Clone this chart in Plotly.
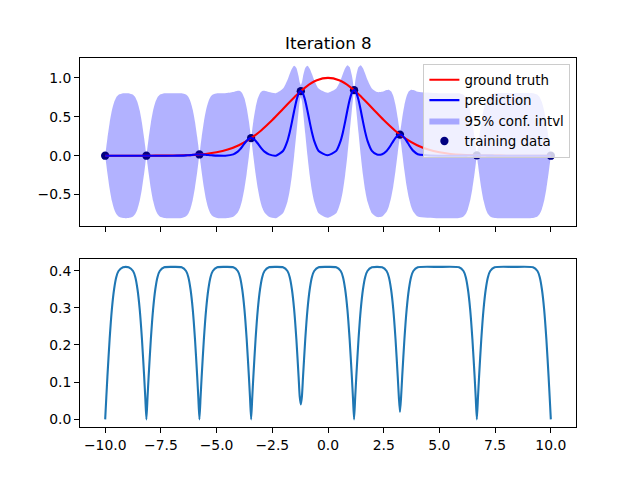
import plotly.graph_objects as go

# ---------------- data ----------------
train_x = [-10.0, -8.15, -5.77, -3.45, -1.22, 1.17, 3.23, 6.68, 10.0]
train_y = [0.0, 0.0, 0.016, 0.226, 0.830, 0.843, 0.271, 0.004, 0.0]

truth_x = [-10.0, -9.5, -9.0, -8.5, -8.0, -7.5, -7.0, -6.5, -6.0, -5.5, -5.0, -4.5, -4.0, -3.5,
           -3.0, -2.5, -2.0, -1.5, -1.0, -0.5, 0.0, 0.5, 1.0, 1.5, 2.0, 2.5, 3.0, 3.5, 4.0,
           4.5, 5.0, 5.5, 6.0, 6.5, 7.0, 7.5, 8.0, 8.5, 9.0, 9.5, 10.0]
truth_y = [0.0, 0.0, 0.0, 0.0001, 0.0003, 0.0009, 0.0022, 0.0051, 0.0111, 0.0228, 0.0439,
           0.0796, 0.1353, 0.2163, 0.3247, 0.4578, 0.6065, 0.7548, 0.8825, 0.9692, 1.0,
           0.9692, 0.8825, 0.7548, 0.6065, 0.4578, 0.3247, 0.2163, 0.1353, 0.0796, 0.0439,
           0.0228, 0.0111, 0.0051, 0.0022, 0.0009, 0.0003, 0.0001, 0.0, 0.0, 0.0]

grid_x = [
    -10.0, -9.95, -9.9, -9.8, -9.7, -9.6, -9.5, -9.4, -9.2,
    -9.075,
    -8.95, -8.75, -8.65, -8.55, -8.45, -8.35, -8.25, -8.2, -8.15, -8.1, -8.05, -7.95, -7.85, -7.75, -7.65, -7.55, -7.35,
    -6.96,
    -6.57, -6.37, -6.27, -6.17, -6.07, -5.97, -5.87, -5.82, -5.77, -5.72, -5.67, -5.57, -5.47, -5.37, -5.27, -5.17, -4.97,
    -4.61,
    -4.25, -4.05, -3.95, -3.85, -3.75, -3.65, -3.55, -3.5, -3.45, -3.4, -3.35, -3.25, -3.15, -3.05, -2.95, -2.85, -2.65,
    -2.335,
    -2.02, -1.82, -1.72, -1.62, -1.52, -1.42, -1.32, -1.27, -1.22, -1.17, -1.12, -1.02, -0.92, -0.82, -0.72, -0.62, -0.42,
    -0.025,
    0.37, 0.57, 0.67, 0.77, 0.87, 0.97, 1.07, 1.12, 1.17, 1.22, 1.27, 1.37, 1.47, 1.57, 1.67, 1.77, 1.97,
    2.2,
    2.43, 2.63, 2.73, 2.83, 2.93, 3.03, 3.13, 3.18, 3.23, 3.28, 3.33, 3.43, 3.53, 3.63, 3.73, 3.83, 4.03,
    4.955,
    5.88, 6.08, 6.18, 6.28, 6.38, 6.48, 6.58, 6.63, 6.68, 6.73, 6.78, 6.88, 6.98, 7.08, 7.18, 7.28, 7.48,
    8.34,
    9.2, 9.4, 9.5, 9.6, 9.7, 9.8, 9.9, 9.95, 10.0,
]

pred_mean = [
    0, 0, 0, 0, 0, 0, 0, 0, 0,
    0,
    0, 0, 0, 0, 0, 0, 0, 0, 0, 0, 0, 0, 0, 0, 0, 0, 0,
    0,
    0.001, 0.004, 0.006, 0.008, 0.011, 0.014, 0.015, 0.016, 0.016, 0.016, 0.015, 0.014, 0.011, 0.008, 0.006, 0.004, 0.001,
    0,
    0.017, 0.052, 0.081, 0.118, 0.157, 0.192, 0.217, 0.224, 0.226, 0.224, 0.217, 0.192, 0.157, 0.118, 0.081, 0.052, 0.017,
    0,
    0.061, 0.191, 0.299, 0.432, 0.575, 0.705, 0.797, 0.822, 0.830, 0.822, 0.797, 0.705, 0.575, 0.432, 0.299, 0.191, 0.061,
    0.005,
    0.062, 0.194, 0.303, 0.438, 0.584, 0.716, 0.809, 0.835, 0.843, 0.835, 0.809, 0.716, 0.584, 0.438, 0.303, 0.194, 0.062,
    0.015,
    0.020, 0.062, 0.098, 0.141, 0.188, 0.230, 0.260, 0.268, 0.271, 0.268, 0.260, 0.230, 0.188, 0.141, 0.098, 0.062, 0.020,
    0,
    0, 0.001, 0.001, 0.002, 0.003, 0.003, 0.004, 0.004, 0.004, 0.004, 0.004, 0.003, 0.003, 0.002, 0.001, 0.001, 0,
    0,
    0, 0, 0, 0, 0, 0, 0, 0, 0,
]

pred_std = [
    0.0, 0.058, 0.115, 0.216, 0.296, 0.350, 0.383, 0.399, 0.409,
    0.410,
    0.409, 0.399, 0.383, 0.350, 0.296, 0.216, 0.115, 0.058, 0.0, 0.058, 0.115, 0.216, 0.296, 0.350, 0.383, 0.399, 0.409,
    0.410,
    0.409, 0.399, 0.383, 0.350, 0.296, 0.216, 0.115, 0.058, 0.0, 0.058, 0.115, 0.216, 0.296, 0.350, 0.383, 0.399, 0.409,
    0.410,
    0.409, 0.399, 0.383, 0.350, 0.296, 0.216, 0.115, 0.058, 0.0, 0.058, 0.115, 0.216, 0.296, 0.350, 0.383, 0.399, 0.409,
    0.410,
    0.409, 0.399, 0.383, 0.350, 0.296, 0.216, 0.115, 0.062, 0.040, 0.062, 0.115, 0.216, 0.296, 0.350, 0.383, 0.399, 0.409,
    0.410,
    0.409, 0.399, 0.383, 0.350, 0.296, 0.216, 0.115, 0.058, 0.0, 0.058, 0.115, 0.216, 0.296, 0.350, 0.383, 0.399, 0.409,
    0.410,
    0.409, 0.399, 0.383, 0.350, 0.296, 0.216, 0.115, 0.060, 0.020, 0.060, 0.115, 0.216, 0.296, 0.350, 0.383, 0.399, 0.409,
    0.410,
    0.409, 0.399, 0.383, 0.350, 0.296, 0.216, 0.115, 0.058, 0.0, 0.058, 0.115, 0.216, 0.296, 0.350, 0.383, 0.399, 0.409,
    0.410,
    0.409, 0.399, 0.383, 0.350, 0.296, 0.216, 0.115, 0.058, 0.0,
]

x_ticks = [-10.0, -7.5, -5.0, -2.5, 0.0, 2.5, 5.0, 7.5, 10.0]
top_y_ticks = [-0.5, 0.0, 0.5, 1.0]
bottom_y_ticks = [0.0, 0.1, 0.2, 0.3, 0.4]
title_text = "Iteration 8"

# band = mean +/- 1.96 std
upper = [m + 1.96 * s for m, s in zip(pred_mean, pred_std)]
lower = [m - 1.96 * s for m, s in zip(pred_mean, pred_std)]

FONT = "DejaVu Sans"
FS = 13.9

fig = go.Figure()

# confidence band
fig.add_trace(go.Scatter(x=grid_x, y=lower, mode="lines",
                         line=dict(width=0, color="rgba(0,0,255,0)", shape="spline", smoothing=0.6),
                         showlegend=False, hoverinfo="skip", xaxis="x", yaxis="y"))
fig.add_trace(go.Scatter(x=grid_x, y=upper, mode="lines",
                         line=dict(width=0, color="rgba(0,0,255,0)", shape="spline", smoothing=0.6),
                         fill="tonexty", fillcolor="rgba(0,0,255,0.3)", name="95% conf. intvl",
                         legendrank=3, xaxis="x", yaxis="y"))
# training data
fig.add_trace(go.Scatter(x=train_x, y=train_y, mode="markers",
                         marker=dict(color="navy", size=8.3, line=dict(width=0)),
                         name="training data", legendrank=4, xaxis="x", yaxis="y"))
# ground truth
fig.add_trace(go.Scatter(x=truth_x, y=truth_y, mode="lines", line=dict(color="red", width=2.1, shape="spline"),
                         name="ground truth", legendrank=1, xaxis="x", yaxis="y"))
# prediction
fig.add_trace(go.Scatter(x=grid_x, y=pred_mean, mode="lines",
                         line=dict(color="blue", width=2.1, shape="spline", smoothing=0.6),
                         name="prediction", legendrank=2, xaxis="x", yaxis="y"))
# std (bottom)
fig.add_trace(go.Scatter(x=grid_x, y=pred_std, mode="lines",
                         line=dict(color="#1f77b4", width=2.1, shape="spline", smoothing=0.6),
                         showlegend=False, xaxis="x2", yaxis="y2"))

axis_common = dict(showline=True, linecolor="black", linewidth=1.1, mirror=True, showgrid=False,
                   zeroline=False, ticks="outside", ticklen=4.9, tickwidth=1.1, tickcolor="black",
                   tickfont=dict(family=FONT, size=FS, color="black"), tickformat=".1f")

# the page body adds an 8px offset, so margins are shifted to keep the axes where the reference has them
fig.update_layout(
    width=640, height=480,
    margin=dict(l=72, r=72, t=49.6, b=60.8, pad=0),
    paper_bgcolor="white", plot_bgcolor="white",
    font=dict(family=FONT, size=FS, color="black"),
    xaxis=dict(axis_common, domain=[0, 1], range=[-11.13, 11.13], tickvals=x_ticks,
               showticklabels=False, anchor="y", matches="x2"),
    yaxis=dict(axis_common, domain=[0.5455, 1], range=[-0.90, 1.256], tickvals=top_y_ticks, anchor="x"),
    xaxis2=dict(axis_common, domain=[0, 1], range=[-11.13, 11.13], tickvals=x_ticks, anchor="y2"),
    yaxis2=dict(axis_common, domain=[0, 0.4545], range=[-0.0205, 0.4305], tickvals=bottom_y_ticks, anchor="x2"),
    legend=dict(x=0.9887, y=0.985, xanchor="right", yanchor="top", traceorder="normal",
                bgcolor="rgba(255,255,255,0.8)", bordercolor="#cccccc", borderwidth=1,
                font=dict(family=FONT, size=13.4, color="black")),
    annotations=[dict(text=title_text, x=0.5, y=1, xref="paper", yref="paper",
                      xanchor="center", yanchor="bottom", yshift=3, showarrow=False,
                      font=dict(family=FONT, size=16.7, color="black"))],
    showlegend=True,
)

fig.write_html("out.html")
